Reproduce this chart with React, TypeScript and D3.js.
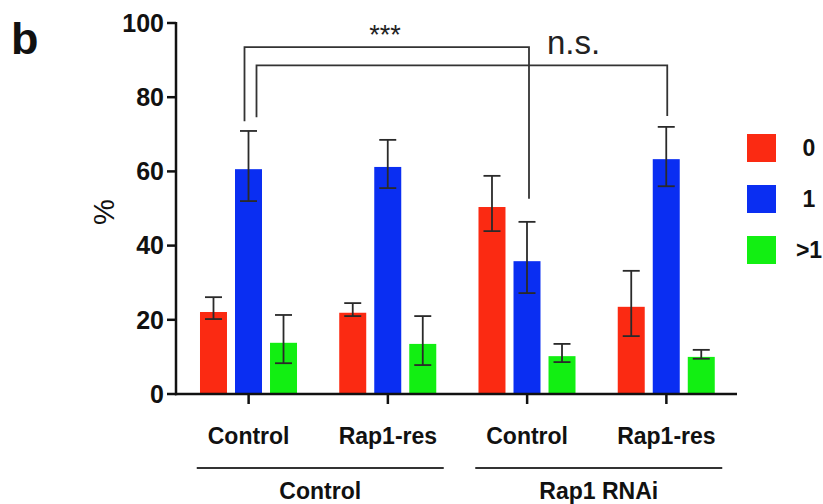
import React from 'react';
import * as d3 from 'd3';

// categories
const subLabels = ['Control', 'Rap1-res', 'Control', 'Rap1-res'];
const treatments = ['Control', 'Rap1 RNAi'];
const keys = ['0', '1', '>1'];
const colors = ['#fb2a12', '#0a2ef2', '#12ef12'];

// means (%) and error bar ends, read per key across the four conditions
const means = [
  [22.1, 21.9, 50.4, 23.5],
  [60.6, 61.2, 35.8, 63.3],
  [13.8, 13.5, 10.2, 10.0],
];
const errLow = [
  [20.2, 21.0, 43.9, 15.6],
  [52.0, 55.5, 27.2, 56.0],
  [8.3, 7.8, 8.6, 9.5],
];
const errHigh = [
  [26.1, 24.5, 58.8, 33.2],
  [70.9, 68.5, 46.4, 72.0],
  [21.3, 21.0, 13.5, 11.9],
];

const yTicks = [0, 20, 40, 60, 80, 100];

// significance brackets between conditions (blue bars)
const brackets = [
  { from: 0, to: 2, top: 93.5, footL: 73.5, footR: 52.6, dxL: -4, dxR: 2, label: '***' },
  { from: 0, to: 3, top: 88.6, footL: 74.6, footR: 74.9, dxL: 8, dxR: 1, label: 'n.s.' },
];

const W = 823, H = 504;
const FONT = '"Liberation Sans", Arial, sans-serif';

export default function App() {
  const y = d3.scaleLinear().domain([0, 100]).range([394, 23]);
  const x0 = d3.scaleBand<number>().domain(d3.range(subLabels.length)).range([179, 736]);
  const x1 = d3.scaleBand<string>().domain(keys).range([17, 122]).paddingInner(0.229).paddingOuter(0.114);
  const bw = x1.bandwidth();
  const cx = (g: number, k: number) => (x0(g) as number) + (x1(keys[k]) as number) + bw / 2;
  const cap = 17;
  const ink = '#2a2a2a';

  const axisX0 = 176;
  const axisX1 = 737;

  return (
    <div style={{ position: 'absolute', left: 0, top: 0 }}>
      <svg width={W} height={H} viewBox={`0 0 ${W} ${H}`} style={{ display: 'block', background: '#fff' }} fontFamily={FONT}>
        <text x={11} y={54} fontSize={45} fontWeight="bold" fill="#111">b</text>

        {/* bars */}
        {keys.map((k, ki) =>
          subLabels.map((_, gi) => (
            <rect key={`b${ki}-${gi}`} x={cx(gi, ki) - bw / 2} y={y(means[ki][gi])}
              width={bw} height={y(0) - y(means[ki][gi])} fill={colors[ki]} />
          ))
        )}

        {/* error bars */}
        {keys.map((k, ki) =>
          subLabels.map((_, gi) => {
            const c = cx(gi, ki);
            return (
              <g key={`e${ki}-${gi}`} stroke={ink} strokeWidth={1.8}>
                <line x1={c} x2={c} y1={y(errLow[ki][gi])} y2={y(errHigh[ki][gi])} />
                <line x1={c - cap / 2} x2={c + cap / 2} y1={y(errHigh[ki][gi])} y2={y(errHigh[ki][gi])} />
                <line x1={c - cap / 2} x2={c + cap / 2} y1={y(errLow[ki][gi])} y2={y(errLow[ki][gi])} />
              </g>
            );
          })
        )}

        {/* y axis */}
        <line x1={axisX0} x2={axisX0} y1={y(100) - 1} y2={y(0) + 1.25} stroke="#111" strokeWidth={2.5} />
        {yTicks.map(t => (
          <g key={`yt${t}`}>
            <line x1={axisX0 - 9} x2={axisX0} y1={y(t)} y2={y(t)} stroke="#111" strokeWidth={2.5} />
            <text x={axisX0 - 12} y={y(t)} dy="0.35em" textAnchor="end" fontSize={25} fontWeight="bold" fill="#111">{t}</text>
          </g>
        ))}
        <text transform={`translate(114,212) rotate(-90)`} textAnchor="middle" fontSize={29} fill="#111">%</text>

        {/* x axis */}
        <line x1={axisX0 - 1} x2={axisX1} y1={y(0)} y2={y(0)} stroke="#111" strokeWidth={2.5} />
        {subLabels.map((s, gi) => {
          const c = (x0(gi) as number) + x0.bandwidth() / 2;
          return (
            <g key={`xt${gi}`}>
              <line x1={c} x2={c} y1={y(0)} y2={y(0) + 10} stroke="#111" strokeWidth={2.5} />
              <text x={c} y={444} textAnchor="middle" fontSize={23} fontWeight="bold" fill="#111">{s}</text>
            </g>
          );
        })}

        {/* treatment groups */}
        {treatments.map((t, ti) => {
          const a = (x0(ti * 2) as number) + x0.bandwidth() / 2;
          const b = (x0(ti * 2 + 1) as number) + x0.bandwidth() / 2;
          const mid = (a + b) / 2 + 2;
          return (
            <g key={`tr${ti}`}>
              <line x1={mid - 123.5} x2={mid + 123.5} y1={468} y2={468} stroke="#333" strokeWidth={1.8} />
              <text x={mid} y={499} textAnchor="middle" fontSize={23} fontWeight="bold" fill="#111">{t}</text>
            </g>
          );
        })}

        {/* significance brackets */}
        {brackets.map((br, i) => {
          const xl = cx(br.from, 1) + br.dxL;
          const xr = cx(br.to, 1) + br.dxR;
          const path = d3.path();
          path.moveTo(xl, y(br.footL));
          path.lineTo(xl, y(br.top));
          path.lineTo(xr, y(br.top));
          path.lineTo(xr, y(br.footR));
          return <path key={`br${i}`} d={path.toString()} fill="none" stroke="#333" strokeWidth={1.8} />;
        })}
        <text x={385} y={44} textAnchor="middle" fontSize={27} fill="#222">{brackets[0].label}</text>
        <text x={547} y={54} fontSize={33} fill="#222">{brackets[1].label}</text>

        {/* legend */}
        {keys.map((k, ki) => (
          <g key={`lg${k}`} transform={`translate(747,${134 + ki * 51})`}>
            <rect width={29} height={28} fill={colors[ki]} />
            <text x={62} y={14} dy="0.35em" textAnchor="middle" fontSize={23} fontWeight="bold" fill="#111">{k}</text>
          </g>
        ))}
      </svg>
    </div>
  );
}
